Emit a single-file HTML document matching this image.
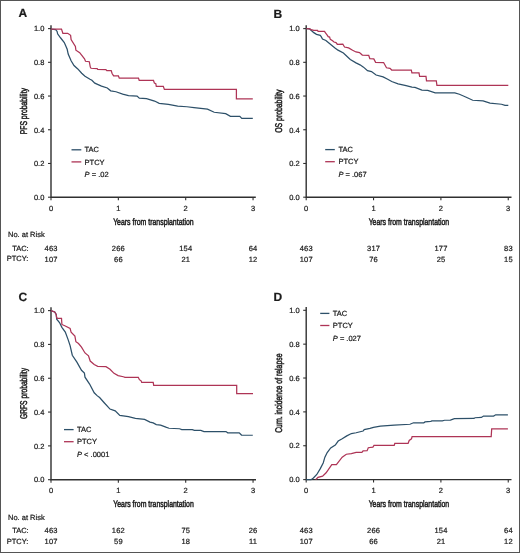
<!DOCTYPE html>
<html><head><meta charset="utf-8"><style>
html,body{margin:0;padding:0;background:#fff;}
body{width:520px;height:553px;overflow:hidden;position:relative;}
svg{position:absolute;left:0;top:0;will-change:transform;}
text{font-family:"Liberation Sans", sans-serif;fill:#1c1c1c;stroke:#1c1c1c;stroke-width:0.22px;text-rendering:geometricPrecision;}
</style></head><body>
<svg width="520" height="553" viewBox="0 0 520 553">
<rect x="0.5" y="0.5" width="519" height="552" fill="#fff" stroke="#555" stroke-width="1"/>
<text x="18.6" y="17.4" font-size="12" font-weight="bold">A</text>
<text x="273.6" y="17.5" font-size="12" font-weight="bold">B</text>
<text x="18.4" y="301.4" font-size="12" font-weight="bold">C</text>
<text x="273.6" y="301.4" font-size="12" font-weight="bold">D</text>
<path d="M51.0,25.2 L51.0,197.2 L255.8,197.2" fill="none" stroke="#303030" stroke-width="1.4"/>
<path d="M48.0,197.20 L51.0,197.20" stroke="#303030" stroke-width="1.1"/>
<text x="44.4" y="199.9" font-size="7.5" text-anchor="end" >0.0</text>
<path d="M48.0,163.48 L51.0,163.48" stroke="#303030" stroke-width="1.1"/>
<text x="44.4" y="166.2" font-size="7.5" text-anchor="end" >0.2</text>
<path d="M48.0,129.76 L51.0,129.76" stroke="#303030" stroke-width="1.1"/>
<text x="44.4" y="132.5" font-size="7.5" text-anchor="end" >0.4</text>
<path d="M48.0,96.04 L51.0,96.04" stroke="#303030" stroke-width="1.1"/>
<text x="44.4" y="98.7" font-size="7.5" text-anchor="end" >0.6</text>
<path d="M48.0,62.32 L51.0,62.32" stroke="#303030" stroke-width="1.1"/>
<text x="44.4" y="65.0" font-size="7.5" text-anchor="end" >0.8</text>
<path d="M48.0,28.60 L51.0,28.60" stroke="#303030" stroke-width="1.1"/>
<text x="44.4" y="31.3" font-size="7.5" text-anchor="end" >1.0</text>
<path d="M51.00,197.2 L51.00,200.2" stroke="#303030" stroke-width="1.1"/>
<text x="51.0" y="210.8" font-size="7.5" text-anchor="middle" >0</text>
<path d="M118.35,197.2 L118.35,200.2" stroke="#303030" stroke-width="1.1"/>
<text x="118.3" y="210.8" font-size="7.5" text-anchor="middle" >1</text>
<path d="M185.70,197.2 L185.70,200.2" stroke="#303030" stroke-width="1.1"/>
<text x="185.7" y="210.8" font-size="7.5" text-anchor="middle" >2</text>
<path d="M253.05,197.2 L253.05,200.2" stroke="#303030" stroke-width="1.1"/>
<text x="253.0" y="210.8" font-size="7.5" text-anchor="middle" >3</text>
<text x="153.4" y="224.7" font-size="9.4" text-anchor="middle" textLength="80.5" lengthAdjust="spacingAndGlyphs" style="stroke-width:0.5px">Years from transplantation</text>
<text transform="translate(27.1,111.2) rotate(-90)" x="0" y="0" font-size="9.8" text-anchor="middle" textLength="46.3" lengthAdjust="spacingAndGlyphs" style="stroke-width:0.5px">PFS probability</text>
<path d="M306.2,25.2 L306.2,197.2 L511.5,197.2" fill="none" stroke="#303030" stroke-width="1.4"/>
<path d="M303.2,197.20 L306.2,197.20" stroke="#303030" stroke-width="1.1"/>
<text x="299.6" y="199.9" font-size="7.5" text-anchor="end" >0.0</text>
<path d="M303.2,163.48 L306.2,163.48" stroke="#303030" stroke-width="1.1"/>
<text x="299.6" y="166.2" font-size="7.5" text-anchor="end" >0.2</text>
<path d="M303.2,129.76 L306.2,129.76" stroke="#303030" stroke-width="1.1"/>
<text x="299.6" y="132.5" font-size="7.5" text-anchor="end" >0.4</text>
<path d="M303.2,96.04 L306.2,96.04" stroke="#303030" stroke-width="1.1"/>
<text x="299.6" y="98.7" font-size="7.5" text-anchor="end" >0.6</text>
<path d="M303.2,62.32 L306.2,62.32" stroke="#303030" stroke-width="1.1"/>
<text x="299.6" y="65.0" font-size="7.5" text-anchor="end" >0.8</text>
<path d="M303.2,28.60 L306.2,28.60" stroke="#303030" stroke-width="1.1"/>
<text x="299.6" y="31.3" font-size="7.5" text-anchor="end" >1.0</text>
<path d="M306.20,197.2 L306.20,200.2" stroke="#303030" stroke-width="1.1"/>
<text x="306.2" y="210.8" font-size="7.5" text-anchor="middle" >0</text>
<path d="M373.55,197.2 L373.55,200.2" stroke="#303030" stroke-width="1.1"/>
<text x="373.5" y="210.8" font-size="7.5" text-anchor="middle" >1</text>
<path d="M440.90,197.2 L440.90,200.2" stroke="#303030" stroke-width="1.1"/>
<text x="440.9" y="210.8" font-size="7.5" text-anchor="middle" >2</text>
<path d="M508.25,197.2 L508.25,200.2" stroke="#303030" stroke-width="1.1"/>
<text x="508.2" y="210.8" font-size="7.5" text-anchor="middle" >3</text>
<text x="408.9" y="224.7" font-size="9.4" text-anchor="middle" textLength="80.5" lengthAdjust="spacingAndGlyphs" style="stroke-width:0.5px">Years from transplantation</text>
<text transform="translate(282.3,111.2) rotate(-90)" x="0" y="0" font-size="9.8" text-anchor="middle" textLength="43.1" lengthAdjust="spacingAndGlyphs" style="stroke-width:0.5px">OS probability</text>
<path d="M51.0,307.2 L51.0,479.7 L256.0,479.7" fill="none" stroke="#303030" stroke-width="1.4"/>
<path d="M48.0,479.70 L51.0,479.70" stroke="#303030" stroke-width="1.1"/>
<text x="44.4" y="482.4" font-size="7.5" text-anchor="end" >0.0</text>
<path d="M48.0,445.88 L51.0,445.88" stroke="#303030" stroke-width="1.1"/>
<text x="44.4" y="448.6" font-size="7.5" text-anchor="end" >0.2</text>
<path d="M48.0,412.06 L51.0,412.06" stroke="#303030" stroke-width="1.1"/>
<text x="44.4" y="414.8" font-size="7.5" text-anchor="end" >0.4</text>
<path d="M48.0,378.24 L51.0,378.24" stroke="#303030" stroke-width="1.1"/>
<text x="44.4" y="380.9" font-size="7.5" text-anchor="end" >0.6</text>
<path d="M48.0,344.42 L51.0,344.42" stroke="#303030" stroke-width="1.1"/>
<text x="44.4" y="347.1" font-size="7.5" text-anchor="end" >0.8</text>
<path d="M48.0,310.60 L51.0,310.60" stroke="#303030" stroke-width="1.1"/>
<text x="44.4" y="313.3" font-size="7.5" text-anchor="end" >1.0</text>
<path d="M51.00,479.7 L51.00,482.7" stroke="#303030" stroke-width="1.1"/>
<text x="51.0" y="493.3" font-size="7.5" text-anchor="middle" >0</text>
<path d="M118.35,479.7 L118.35,482.7" stroke="#303030" stroke-width="1.1"/>
<text x="118.3" y="493.3" font-size="7.5" text-anchor="middle" >1</text>
<path d="M185.70,479.7 L185.70,482.7" stroke="#303030" stroke-width="1.1"/>
<text x="185.7" y="493.3" font-size="7.5" text-anchor="middle" >2</text>
<path d="M253.05,479.7 L253.05,482.7" stroke="#303030" stroke-width="1.1"/>
<text x="253.0" y="493.3" font-size="7.5" text-anchor="middle" >3</text>
<text x="153.5" y="507.2" font-size="9.4" text-anchor="middle" textLength="80.5" lengthAdjust="spacingAndGlyphs" style="stroke-width:0.5px">Years from transplantation</text>
<text transform="translate(27.1,393.5) rotate(-90)" x="0" y="0" font-size="9.8" text-anchor="middle" textLength="51.1" lengthAdjust="spacingAndGlyphs" style="stroke-width:0.5px">GRFS probability</text>
<path d="M306.2,306.9 L306.2,479.6 L511.5,479.6" fill="none" stroke="#303030" stroke-width="1.4"/>
<path d="M303.2,479.60 L306.2,479.60" stroke="#303030" stroke-width="1.1"/>
<text x="299.6" y="482.3" font-size="7.5" text-anchor="end" >0.0</text>
<path d="M303.2,445.74 L306.2,445.74" stroke="#303030" stroke-width="1.1"/>
<text x="299.6" y="448.4" font-size="7.5" text-anchor="end" >0.2</text>
<path d="M303.2,411.88 L306.2,411.88" stroke="#303030" stroke-width="1.1"/>
<text x="299.6" y="414.6" font-size="7.5" text-anchor="end" >0.4</text>
<path d="M303.2,378.02 L306.2,378.02" stroke="#303030" stroke-width="1.1"/>
<text x="299.6" y="380.7" font-size="7.5" text-anchor="end" >0.6</text>
<path d="M303.2,344.16 L306.2,344.16" stroke="#303030" stroke-width="1.1"/>
<text x="299.6" y="346.9" font-size="7.5" text-anchor="end" >0.8</text>
<path d="M303.2,310.30 L306.2,310.30" stroke="#303030" stroke-width="1.1"/>
<text x="299.6" y="313.0" font-size="7.5" text-anchor="end" >1.0</text>
<path d="M306.20,479.6 L306.20,482.6" stroke="#303030" stroke-width="1.1"/>
<text x="306.2" y="493.2" font-size="7.5" text-anchor="middle" >0</text>
<path d="M373.55,479.6 L373.55,482.6" stroke="#303030" stroke-width="1.1"/>
<text x="373.5" y="493.2" font-size="7.5" text-anchor="middle" >1</text>
<path d="M440.90,479.6 L440.90,482.6" stroke="#303030" stroke-width="1.1"/>
<text x="440.9" y="493.2" font-size="7.5" text-anchor="middle" >2</text>
<path d="M508.25,479.6 L508.25,482.6" stroke="#303030" stroke-width="1.1"/>
<text x="508.2" y="493.2" font-size="7.5" text-anchor="middle" >3</text>
<text x="408.9" y="507.1" font-size="9.4" text-anchor="middle" textLength="80.5" lengthAdjust="spacingAndGlyphs" style="stroke-width:0.5px">Years from transplantation</text>
<text transform="translate(282.3,393.2) rotate(-90)" x="0" y="0" font-size="9.8" text-anchor="middle" textLength="79.3" lengthAdjust="spacingAndGlyphs" style="stroke-width:0.5px">Cum. incidence of relapse</text>
<path d="M71.5,149.8 L81.3,149.8" stroke="#2d5069" stroke-width="1.3"/>
<path d="M71.5,161.9 L81.3,161.9" stroke="#ae3456" stroke-width="1.3"/>
<text x="84.6" y="152.1" font-size="7.5" text-anchor="start" >TAC</text>
<text x="84.6" y="164.5" font-size="7.5" text-anchor="start" >PTCY</text>
<text x="84.6" y="176.7" font-size="7.5"><tspan font-style="italic">P</tspan> = .02</text>
<path d="M325.2,149.6 L334.8,149.6" stroke="#2d5069" stroke-width="1.3"/>
<path d="M325.2,161.7 L334.8,161.7" stroke="#ae3456" stroke-width="1.3"/>
<text x="338.4" y="151.8" font-size="7.5" text-anchor="start" >TAC</text>
<text x="338.4" y="164.2" font-size="7.5" text-anchor="start" >PTCY</text>
<text x="338.4" y="176.7" font-size="7.5"><tspan font-style="italic">P</tspan> = .067</text>
<path d="M64.0,429.6 L73.6,429.6" stroke="#2d5069" stroke-width="1.3"/>
<path d="M64.0,441.7 L73.6,441.7" stroke="#ae3456" stroke-width="1.3"/>
<text x="77.0" y="432.1" font-size="7.5" text-anchor="start" >TAC</text>
<text x="77.0" y="444.2" font-size="7.5" text-anchor="start" >PTCY</text>
<text x="77.0" y="456.7" font-size="7.5"><tspan font-style="italic">P</tspan> &lt; .0001</text>
<path d="M320.2,313.4 L329.4,313.4" stroke="#2d5069" stroke-width="1.3"/>
<path d="M320.2,325.5 L329.4,325.5" stroke="#ae3456" stroke-width="1.3"/>
<text x="332.8" y="315.7" font-size="7.5" text-anchor="start" >TAC</text>
<text x="332.8" y="328.1" font-size="7.5" text-anchor="start" >PTCY</text>
<text x="332.8" y="340.5" font-size="7.5"><tspan font-style="italic">P</tspan> = .027</text>
<text x="8.0" y="237.10000000000002" font-size="7.5" text-anchor="start" >No. at Risk</text>
<text x="28.7" y="250.8" font-size="7.5" text-anchor="end" >TAC:</text>
<text x="28.4" y="261.40000000000003" font-size="7.5" text-anchor="end" >PTCY:</text>
<text x="51.1" y="250.8" font-size="7.5" text-anchor="middle" letter-spacing="0.2">463</text>
<text x="51.1" y="261.6" font-size="7.5" text-anchor="middle" letter-spacing="0.2">107</text>
<text x="118.4" y="250.8" font-size="7.5" text-anchor="middle" letter-spacing="0.2">266</text>
<text x="118.4" y="261.6" font-size="7.5" text-anchor="middle" letter-spacing="0.2">66</text>
<text x="185.8" y="250.8" font-size="7.5" text-anchor="middle" letter-spacing="0.2">154</text>
<text x="185.8" y="261.6" font-size="7.5" text-anchor="middle" letter-spacing="0.2">21</text>
<text x="253.1" y="250.8" font-size="7.5" text-anchor="middle" letter-spacing="0.2">64</text>
<text x="253.1" y="261.6" font-size="7.5" text-anchor="middle" letter-spacing="0.2">12</text>
<text x="306.3" y="250.8" font-size="7.5" text-anchor="middle" letter-spacing="0.2">463</text>
<text x="306.3" y="261.6" font-size="7.5" text-anchor="middle" letter-spacing="0.2">107</text>
<text x="373.6" y="250.8" font-size="7.5" text-anchor="middle" letter-spacing="0.2">317</text>
<text x="373.6" y="261.6" font-size="7.5" text-anchor="middle" letter-spacing="0.2">76</text>
<text x="441.0" y="250.8" font-size="7.5" text-anchor="middle" letter-spacing="0.2">177</text>
<text x="441.0" y="261.6" font-size="7.5" text-anchor="middle" letter-spacing="0.2">25</text>
<text x="508.4" y="250.8" font-size="7.5" text-anchor="middle" letter-spacing="0.2">83</text>
<text x="508.4" y="261.6" font-size="7.5" text-anchor="middle" letter-spacing="0.2">15</text>
<text x="8.0" y="519.5999999999999" font-size="7.5" text-anchor="start" >No. at Risk</text>
<text x="28.7" y="533.3" font-size="7.5" text-anchor="end" >TAC:</text>
<text x="28.4" y="543.9" font-size="7.5" text-anchor="end" >PTCY:</text>
<text x="51.1" y="533.3" font-size="7.5" text-anchor="middle" letter-spacing="0.2">463</text>
<text x="51.1" y="544.0999999999999" font-size="7.5" text-anchor="middle" letter-spacing="0.2">107</text>
<text x="118.4" y="533.3" font-size="7.5" text-anchor="middle" letter-spacing="0.2">162</text>
<text x="118.4" y="544.0999999999999" font-size="7.5" text-anchor="middle" letter-spacing="0.2">59</text>
<text x="185.8" y="533.3" font-size="7.5" text-anchor="middle" letter-spacing="0.2">75</text>
<text x="185.8" y="544.0999999999999" font-size="7.5" text-anchor="middle" letter-spacing="0.2">18</text>
<text x="253.1" y="533.3" font-size="7.5" text-anchor="middle" letter-spacing="0.2">26</text>
<text x="253.1" y="544.0999999999999" font-size="7.5" text-anchor="middle" letter-spacing="0.2">11</text>
<text x="306.3" y="533.3" font-size="7.5" text-anchor="middle" letter-spacing="0.2">463</text>
<text x="306.3" y="544.0999999999999" font-size="7.5" text-anchor="middle" letter-spacing="0.2">107</text>
<text x="373.6" y="533.3" font-size="7.5" text-anchor="middle" letter-spacing="0.2">266</text>
<text x="373.6" y="544.0999999999999" font-size="7.5" text-anchor="middle" letter-spacing="0.2">66</text>
<text x="441.0" y="533.3" font-size="7.5" text-anchor="middle" letter-spacing="0.2">154</text>
<text x="441.0" y="544.0999999999999" font-size="7.5" text-anchor="middle" letter-spacing="0.2">21</text>
<text x="508.4" y="533.3" font-size="7.5" text-anchor="middle" letter-spacing="0.2">64</text>
<text x="508.4" y="544.0999999999999" font-size="7.5" text-anchor="middle" letter-spacing="0.2">12</text>
<path d="M50.9,29.05 L55.7,29.55 L57.1,31.45 L57.6,33.85 L60.5,37.75 L64.3,42.55 L67.2,49.25 L68.2,54.05 L71.1,60.75 L74.0,65.55 L77.8,68.95 L81.7,73.25 L85.0,76.25 L90.0,79.25 L91.9,80.25 L94.8,83.15 L101.5,86.05 L107.3,87.95 L110.7,90.85 L116.0,91.75 L122.7,94.15 L128.5,95.65 L137.1,96.15 L139.3,98.15 L146.5,98.65 L154.6,101.05 L159.2,103.35 L168.4,104.45 L177.7,106.15 L186.9,106.75 L194.0,107.55 L207.5,109.15 L214.2,112.25 L225.7,113.65 L230.4,116.25 L239.8,116.25 L241.8,118.35 L252.8,118.35" fill="none" stroke="#2d5069" stroke-width="1.25" stroke-linejoin="miter"/>
<path d="M50.9,29.05 L61.5,29.05 L62.9,33.35 L67.7,33.35 L70.6,35.35 L71.1,39.65 L75.4,46.35 L75.9,50.25 L79.7,52.65 L84.5,58.85 L85.5,61.25 L89.3,61.75 L90.3,67.05 L91.0,68.25 L97.2,68.55 L97.7,69.45 L105.9,69.65 L106.8,70.65 L111.2,70.65 L112.1,73.55 L113.6,75.95 L118.4,75.95 L119.3,78.15 L138.5,78.15 L139.2,80.45 L153.5,80.45 L154.4,83.15 L155.8,83.75 L156.3,86.25 L163.3,86.25 L164.4,89.35 L236.4,89.35 L236.4,98.85 L252.8,98.85" fill="none" stroke="#ae3456" stroke-width="1.25" stroke-linejoin="miter"/>
<path d="M306.4,28.65 L309.7,28.95 L313.8,32.65 L316.5,34.35 L320.2,35.35 L321.2,36.65 L322.5,39.05 L325.9,40.45 L328.6,42.75 L331.9,45.45 L335.3,48.15 L338.0,50.15 L343.4,53.05 L350.3,59.45 L356.0,62.85 L360.0,64.85 L363.5,67.15 L367.5,70.65 L371.5,71.55 L376.1,75.05 L383.1,76.95 L387.7,79.25 L391.7,81.55 L398.1,83.85 L406.1,85.65 L411.9,87.05 L415.0,87.35 L421.9,90.05 L427.7,90.45 L435.2,92.85 L454.8,92.85 L459.4,94.25 L465.7,96.95 L472.7,100.25 L483.1,100.85 L490.0,103.15 L501.5,104.25 L505.0,105.45 L508.3,105.45" fill="none" stroke="#2d5069" stroke-width="1.25" stroke-linejoin="miter"/>
<path d="M306.4,28.65 L309.7,28.95 L311.1,29.65 L313.8,30.35 L317.5,30.35 L318.1,31.35 L324.5,31.35 L325.5,32.95 L327.2,35.05 L328.2,36.65 L329.6,37.05 L330.3,39.35 L332.6,40.75 L334.0,42.05 L336.0,42.55 L337.3,44.25 L342.8,44.05 L344.5,47.05 L348.6,47.85 L352.6,50.25 L356.0,51.95 L359.5,52.55 L362.3,55.05 L368.7,55.35 L369.8,58.55 L373.8,58.85 L375.6,62.35 L383.6,62.55 L386.5,67.75 L390.0,68.35 L391.7,70.05 L411.3,70.05 L411.9,72.85 L419.0,72.85 L419.6,76.35 L426.0,76.35 L426.5,80.75 L436.3,80.75 L436.9,85.25 L508.3,85.25" fill="none" stroke="#ae3456" stroke-width="1.25" stroke-linejoin="miter"/>
<path d="M50.9,310.55 L54.7,311.95 L56.2,314.35 L56.7,319.25 L59.5,322.55 L61.9,327.35 L65.3,332.15 L68.2,339.85 L70.1,345.65 L72.3,355.25 L76.9,362.15 L81.5,370.25 L84.4,373.15 L85.0,377.15 L89.6,384.05 L94.2,392.75 L97.1,395.65 L99.6,397.55 L104.2,402.75 L110.0,409.05 L115.2,410.85 L119.8,415.45 L128.4,416.55 L135.4,418.35 L144.6,419.45 L150.0,422.15 L153.2,422.95 L156.3,424.55 L160.6,425.05 L165.9,427.15 L169.0,428.25 L179.6,428.75 L181.7,429.65 L192.3,429.65 L194.4,430.35 L200.8,430.35 L204.0,431.55 L226.0,431.55 L227.7,432.75 L239.2,432.75 L241.5,435.05 L252.8,435.25" fill="none" stroke="#2d5069" stroke-width="1.25" stroke-linejoin="miter"/>
<path d="M50.9,310.55 L54.7,311.95 L56.2,314.35 L56.7,317.75 L57.6,318.25 L61.5,318.25 L61.9,324.45 L65.3,325.95 L70.1,328.35 L71.1,332.15 L74.9,336.05 L75.9,341.75 L78.5,343.55 L81.5,347.15 L85.0,352.95 L88.5,355.85 L90.2,361.05 L94.2,364.45 L97.7,366.35 L106.0,366.65 L110.0,369.25 L114.0,373.35 L118.1,375.65 L123.3,376.75 L125.0,377.35 L138.3,377.35 L139.4,379.65 L141.1,380.85 L141.7,382.45 L153.2,382.45 L153.7,385.45 L236.7,385.45 L236.7,393.55 L253.0,393.55" fill="none" stroke="#ae3456" stroke-width="1.25" stroke-linejoin="miter"/>
<path d="M306.2,479.65 L311.1,479.65 L313.4,477.95 L316.8,474.45 L320.3,468.65 L323.2,462.95 L324.9,457.15 L327.2,452.55 L330.7,447.95 L335.3,445.05 L338.2,441.05 L342.2,438.75 L346.8,435.85 L351.4,433.55 L356.1,432.75 L363.1,431.05 L364.2,429.65 L370.0,428.45 L373.5,427.35 L380.4,426.15 L394.2,425.05 L410.0,424.25 L413.5,422.75 L423.8,422.75 L425.0,421.95 L430.8,421.35 L431.9,420.85 L442.3,420.85 L444.6,420.25 L450.4,420.05 L454.4,418.55 L474.0,418.45 L475.0,417.75 L481.4,417.45 L483.5,416.05 L493.6,416.05 L495.7,414.75 L507.9,414.75" fill="none" stroke="#2d5069" stroke-width="1.25" stroke-linejoin="miter"/>
<path d="M315.7,479.65 L318.0,477.35 L322.6,476.15 L326.1,472.75 L331.8,464.65 L336.4,464.65 L342.2,457.15 L346.3,454.25 L351.4,453.65 L356.1,452.35 L361.9,452.35 L363.1,450.85 L367.1,450.65 L368.3,447.75 L372.9,447.15 L374.0,445.45 L394.2,445.45 L394.8,443.45 L408.1,443.45 L409.2,440.45 L411.5,438.85 L412.1,436.65 L491.2,436.65 L491.7,428.75 L507.9,428.75" fill="none" stroke="#ae3456" stroke-width="1.25" stroke-linejoin="miter"/>
</svg>
</body></html>
